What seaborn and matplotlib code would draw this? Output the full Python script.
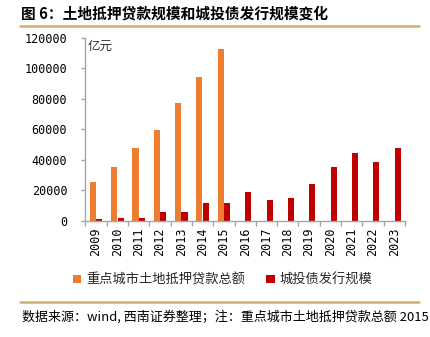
import numpy as np
import pandas as pd
import matplotlib
matplotlib.use("Agg")
import matplotlib.pyplot as plt
from matplotlib.patches import Patch
from matplotlib.lines import Line2D
from matplotlib.ticker import FixedLocator
import seaborn as sns

# 年份与两组数据（亿元）
years = ["2009", "2010", "2011", "2012", "2013", "2014", "2015", "2016",
         "2017", "2018", "2019", "2020", "2021", "2022", "2023"]
land_loans = [25600, 35300, 47900, 59800, 77300, 94600, 113000,
              np.nan, np.nan, np.nan, np.nan, np.nan, np.nan, np.nan, np.nan]
lgfv_bonds = [1100, 1800, 1800, 5900, 5900, 11600, 11600, 18600,
              13600, 14700, 24100, 35000, 44700, 38300, 47900]
series_names = ["重点城市土地抵押贷款总额", "城投债发行规模"]
colors = ["#ED7D31", "#C00000"]
y_ticks = [0, 20000, 40000, 60000, 80000, 100000, 120000]

df = pd.DataFrame({
    "年份": years * 2,
    "规模": land_loans + lgfv_bonds,
    "类别": [series_names[0]] * len(years) + [series_names[1]] * len(years),
})

sns.set_theme(style="white")
plt.rcParams["font.family"] = ["Noto Sans CJK SC", "DejaVu Sans"]

fig = plt.figure(figsize=(4.3, 3.37), dpi=100)
ax = fig.add_axes([85.4 / 430, 1 - 220.7 / 337, (405 - 85.4) / 430, (220.7 - 38) / 337])

sns.barplot(data=df, x="年份", y="规模", hue="类别", hue_order=series_names,
            palette=colors, order=years, width=0.6, gap=0.05, saturation=1,
            edgecolor="none", linewidth=0, legend=False, ax=ax)

ax.set_xlim(-0.5, len(years) - 0.5)
ax.set_ylim(0, 120000)
ax.set_yticks(y_ticks)
ax.set_xlabel("")
ax.set_ylabel("")

axis_gray = "#A6A6A6"
for side in ["top", "right"]:
    ax.spines[side].set_visible(False)
for side in ["left", "bottom"]:
    ax.spines[side].set_color(axis_gray)
    ax.spines[side].set_linewidth(1.0)

mono = ["DejaVu Sans Mono"]
ax.set_yticklabels([str(v) for v in y_ticks], family=mono, fontsize=8.5, color="#000000")
ax.tick_params(axis="y", which="major", left=True, length=3, width=1,
               color=axis_gray, pad=10)
ax.set_xticks(range(len(years)))
ax.set_xticklabels(years, rotation=90, family=mono, fontsize=8.5, color="#000000")
ax.tick_params(axis="x", which="major", bottom=False, length=0, pad=5)
ax.xaxis.set_minor_locator(FixedLocator(np.arange(-0.5, len(years), 1.0)))
ax.tick_params(axis="x", which="minor", bottom=True, length=3.5, width=1,
               color=axis_gray)

ax.text(0.008, 0.99, "亿元", transform=ax.transAxes, ha="left", va="top",
        fontsize=9, color="#333333")

# 标题与分隔线
fig.text(21 / 430, 1 - 13 / 337, "图 6：土地抵押贷款规模和城投债发行规模变化",
         ha="left", va="center", fontsize=10.6, fontweight="bold", color="#000000")
line_color = "#D2AE74"
fig.add_artist(Line2D([20 / 430, 419 / 430], [1 - 26 / 337, 1 - 26 / 337],
                      color=line_color, linewidth=1.8, transform=fig.transFigure))
fig.add_artist(Line2D([20 / 430, 419 / 430], [1 - 302 / 337, 1 - 302 / 337],
                      color=line_color, linewidth=1.8, transform=fig.transFigure))

# 图例
handles = [Patch(facecolor=c, edgecolor="none") for c in colors]
fig.legend(handles, series_names, loc="center", bbox_to_anchor=(0.517, 1 - 280 / 337),
           ncol=2, frameon=False, fontsize=9.5, handlelength=0.65, handleheight=0.65,
           handletextpad=0.35, columnspacing=1.6, borderaxespad=0)

# 数据来源
fig.text(22 / 430, 1 - 317 / 337,
         "数据来源：wind, 西南证券整理；注：重点城市土地抵押贷款总额 2015",
         ha="left", va="center", fontsize=9.4, style="italic", color="#000000")

fig.savefig("out.png", dpi=100)
